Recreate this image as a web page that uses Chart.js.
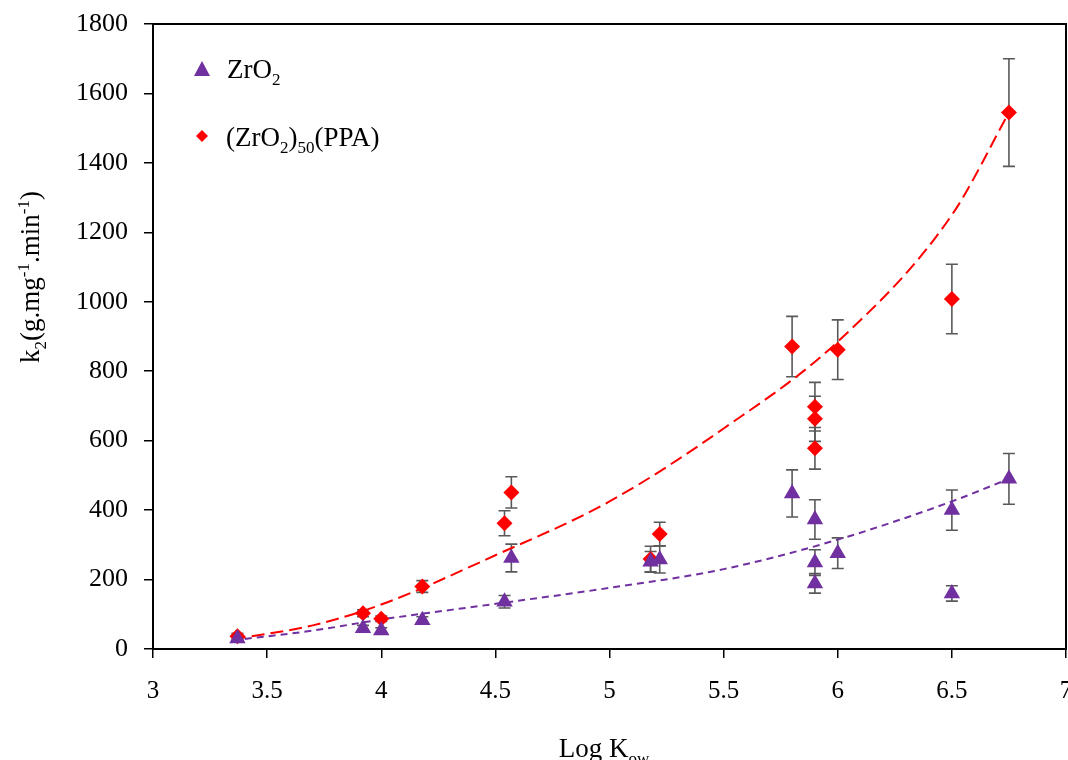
<!DOCTYPE html>
<html>
<head>
<meta charset="utf-8">
<script src="https://cdn.jsdelivr.net/npm/chart.js@4.4.1/dist/chart.umd.min.js"></script>
<style>
  html, body { margin: 0; padding: 0; background: #fff; }
  #wrap { width: 1068px; height: 760px; position: relative; }
</style>
</head>
<body>
<div id="wrap"><canvas id="kChart" width="1068" height="760"></canvas></div>
<script>

/* =========================
   DATA
========================= */

const zrX   = [3.37, 3.92, 4.00, 4.18, 4.54, 4.57, 5.18, 5.22, 5.80, 5.90, 5.90, 5.90, 6.00, 6.50, 6.50, 6.75];
const zrY   = [30, 60, 53, 83, 136, 262, 251, 258, 448, 373, 249, 189, 276, 400, 160, 490];
const zrErr = [5, 8, 8, 10, 18, 40, 30, 39, 68, 57, 37, 28, 44, 58, 22, 73];

const ppaX   = [3.37, 3.92, 4.00, 4.18, 4.54, 4.57, 5.18, 5.22, 5.80, 5.90, 5.90, 5.90, 6.00, 6.50, 6.75];
const ppaY   = [37, 103, 87, 180, 362, 451, 259, 331, 871, 698, 663, 578, 862, 1008, 1545];
const ppaErr = [8, 10, 8, 17, 36, 45, 37, 34, 87, 70, 65, 60, 86, 100, 155];

// dashed trend lines
const trendX    = [3.35, 3.7, 4.0, 4.5, 5.0, 5.5, 6.0, 6.5, 6.75];
const trendZrO2 = [25, 53, 85, 130, 176, 230, 315, 425, 490];
const trendPPA  = [28, 68, 128, 270, 425, 635, 885, 1250, 1545];

const xTicks = [3, 3.5, 4, 4.5, 5, 5.5, 6, 6.5, 7];
const yTicks = [0, 200, 400, 600, 800, 1000, 1200, 1400, 1600, 1800];

const PURPLE = '#7030A0';
const RED = '#FF0000';
const FONT = "'Liberation Serif', 'Times New Roman', serif";

function toPoints(xs, ys){
    return xs.map((x, i) => ({ x: x, y: ys[i] }));
}

/* =========================
   RICH TEXT (sub / sup)
========================= */

function drawRuns(ctx, runs, cx, baseY, size){
    const small = Math.round(size * 0.62);
    let total = 0;
    runs.forEach(r => {
        ctx.font = (r[1] ? small : size) + 'px ' + FONT;
        total += ctx.measureText(r[0]).width;
    });
    let x = cx - total / 2;
    ctx.textAlign = 'left';
    ctx.textBaseline = 'alphabetic';
    runs.forEach(r => {
        ctx.font = (r[1] ? small : size) + 'px ' + FONT;
        let dy = 0;
        if(r[1] === 'sub') dy = size * 0.25;
        if(r[1] === 'sup') dy = -size * 0.38;
        ctx.fillText(r[0], x, baseY + dy);
        x += ctx.measureText(r[0]).width;
    });
    return total;
}

function drawRunsLeft(ctx, runs, x, baseY, size){
    const small = Math.round(size * 0.62);
    let total = 0;
    runs.forEach(r => {
        ctx.font = (r[1] ? small : size) + 'px ' + FONT;
        total += ctx.measureText(r[0]).width;
    });
    drawRuns(ctx, runs, x + total / 2, baseY, size);
}

/* =========================
   PLUGINS
========================= */

const errorBars = {
    id: 'errorBars',
    beforeDatasetsDraw(chart){
        const ctx = chart.ctx;
        const xs = chart.scales.x;
        const ys = chart.scales.y;
        ctx.save();
        ctx.strokeStyle = '#595959';
        ctx.lineWidth = 1.6;
        const sets = [[zrX, zrY, zrErr], [ppaX, ppaY, ppaErr]];
        sets.forEach(s => {
            s[0].forEach((xv, i) => {
                const px = xs.getPixelForValue(xv);
                const top = ys.getPixelForValue(s[1][i] + s[2][i]);
                const bot = ys.getPixelForValue(s[1][i] - s[2][i]);
                ctx.beginPath();
                ctx.moveTo(px, top); ctx.lineTo(px, bot);
                ctx.moveTo(px - 6, top); ctx.lineTo(px + 6, top);
                ctx.moveTo(px - 6, bot); ctx.lineTo(px + 6, bot);
                ctx.stroke();
            });
        });
        ctx.restore();
    }
};

const decorations = {
    id: 'decorations',
    afterDraw(chart){
        const ctx = chart.ctx;
        const a = chart.chartArea;
        ctx.save();

        // frame
        ctx.strokeStyle = '#000';
        ctx.lineWidth = 2;
        ctx.strokeRect(a.left, a.top, a.right - a.left, a.bottom - a.top);

        // legend
        ctx.fillStyle = PURPLE;
        ctx.beginPath();
        ctx.moveTo(202, 61);
        ctx.lineTo(210, 76);
        ctx.lineTo(194, 76);
        ctx.closePath();
        ctx.fill();

        ctx.fillStyle = RED;
        ctx.beginPath();
        ctx.moveTo(202, 130);
        ctx.lineTo(208, 136);
        ctx.lineTo(202, 142);
        ctx.lineTo(196, 136);
        ctx.closePath();
        ctx.fill();

        ctx.fillStyle = '#000';
        drawRunsLeft(ctx, [['ZrO'], ['2', 'sub']], 227, 78, 27);
        drawRunsLeft(ctx, [['(ZrO'], ['2', 'sub'], [')'], ['50', 'sub'], ['(PPA)']], 226, 146, 27);

        // x title
        drawRuns(ctx, [['Log K'], ['ow', 'sub']], 604, 757, 27);

        // y title
        ctx.translate(39, 277);
        ctx.rotate(-Math.PI / 2);
        drawRuns(ctx, [['k'], ['2', 'sub'], ['(g.mg'], ['-1', 'sup'], ['.min'], ['-1', 'sup'], [')']], 0, 0, 27);

        ctx.restore();
    }
};

/* =========================
   CHART
========================= */

const ctx = document.getElementById('kChart');

new Chart(ctx, {

    type: 'scatter',

    data: {
        datasets: [
            {
                label: 'ZrO2',
                data: toPoints(zrX, zrY),
                pointStyle: 'triangle',
                pointRadius: 9.5,
                pointHoverRadius: 9.5,
                backgroundColor: PURPLE,
                borderColor: PURPLE,
                borderWidth: 0
            },
            {
                label: '(ZrO2)50(PPA)',
                data: toPoints(ppaX, ppaY),
                pointStyle: 'rectRot',
                pointRadius: 8,
                pointHoverRadius: 8,
                backgroundColor: RED,
                borderColor: RED,
                borderWidth: 0
            },
            {
                label: 'ZrO2 trend',
                data: toPoints(trendX, trendZrO2),
                showLine: true,
                pointRadius: 0,
                borderColor: PURPLE,
                borderWidth: 2,
                borderDash: [7, 5],
                cubicInterpolationMode: 'monotone',
                fill: false
            },
            {
                label: 'PPA trend',
                data: toPoints(trendX, trendPPA),
                showLine: true,
                pointRadius: 0,
                borderColor: RED,
                borderWidth: 2,
                borderDash: [13, 6],
                cubicInterpolationMode: 'monotone',
                fill: false
            }
        ]
    },

    options: {
        responsive: false,
        animation: false,
        devicePixelRatio: 1,
        layout: {
            autoPadding: false,
            padding: { left: 0, right: 2, top: 24, bottom: 0 }
        },
        plugins: {
            legend: { display: false },
            tooltip: { enabled: false }
        },
        scales: {
            x: {
                type: 'linear',
                min: 3,
                max: 7,
                afterBuildTicks(scale){
                    scale.ticks = xTicks.map(v => ({ value: v }));
                },
                afterFit(scale){
                    scale.height = 111;
                    scale.paddingLeft = 0;
                    scale.paddingRight = 0;
                },
                grid: {
                    drawOnChartArea: false,
                    drawTicks: true,
                    tickLength: 9,
                    color: '#000',
                    lineWidth: 1.5
                },
                border: { display: true, color: '#000', width: 2 },
                ticks: {
                    color: '#000',
                    padding: 18,
                    maxRotation: 0,
                    autoSkip: false,
                    callback: v => String(v),
                    font: { family: FONT, size: 25 }
                }
            },
            y: {
                type: 'linear',
                min: 0,
                max: 1800,
                afterBuildTicks(scale){
                    scale.ticks = yTicks.map(v => ({ value: v }));
                },
                afterFit(scale){
                    scale.width = 153;
                    scale.paddingTop = 0;
                    scale.paddingBottom = 0;
                },
                grid: {
                    drawOnChartArea: false,
                    drawTicks: true,
                    tickLength: 9,
                    color: '#000',
                    lineWidth: 1.5
                },
                border: { display: true, color: '#000', width: 2 },
                ticks: {
                    color: '#000',
                    padding: 16,
                    autoSkip: false,
                    callback: v => String(v),
                    font: { family: FONT, size: 26 }
                }
            }
        }
    },

    plugins: [errorBars, decorations]

});

</script>
</body>
</html>
